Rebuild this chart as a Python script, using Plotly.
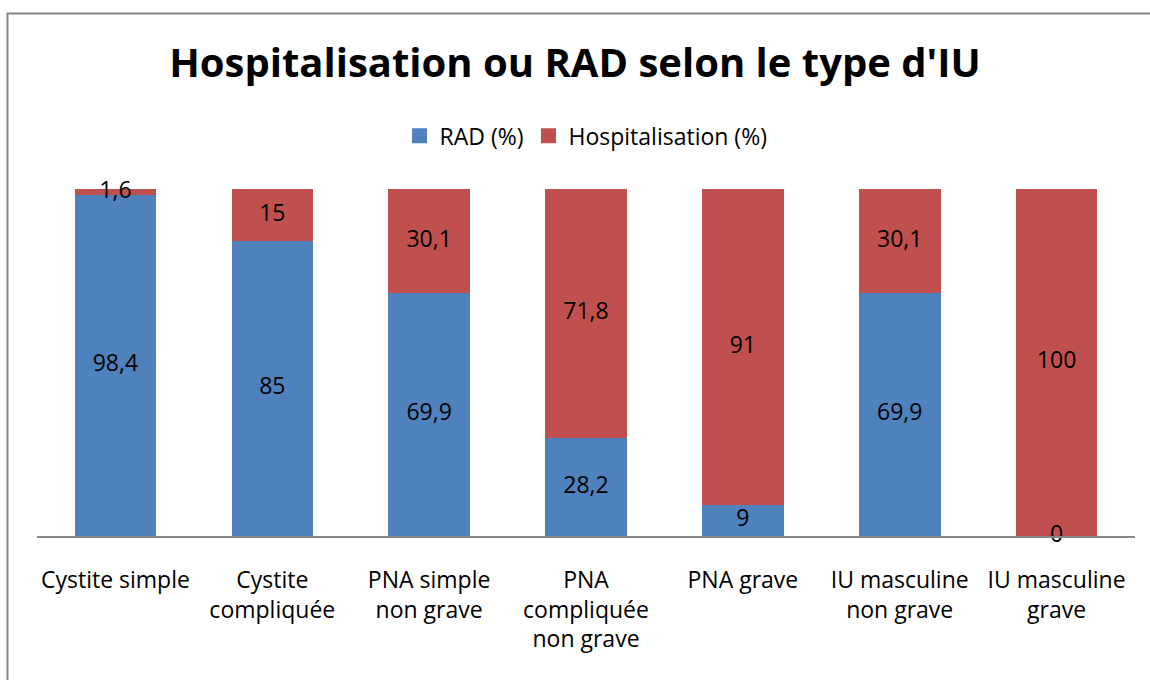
import plotly.graph_objects as go

categories = ["Cystite simple", "Cystite<br>compliquée", "PNA simple<br>non grave",
              "PNA<br>compliquée<br>non grave", "PNA grave",
              "IU masculine<br>non grave", "IU masculine<br>grave"]
rad = [98.4, 85, 69.9, 28.2, 9, 69.9, 0]
hosp = [1.6, 15, 30.1, 71.8, 91, 30.1, 100]
rad_labels = ["98,4", "85", "69,9", "28,2", "9", "69,9", "0"]
hosp_labels = ["1,6", "15", "30,1", "71,8", "91", "30,1", "100"]

font_name = "Open Sans"
blue, red = "#4F81BD", "#C0504D"

fig = go.Figure()
fig.add_trace(go.Bar(x=categories, y=rad, name="RAD (%)", marker_color=blue,
                     marker_line_width=0, width=0.52, hoverinfo="skip", showlegend=False))
fig.add_trace(go.Bar(x=categories, y=hosp, name="Hospitalisation (%)", marker_color=red,
                     marker_line_width=0, width=0.52, hoverinfo="skip", showlegend=False))

# legend entries with bigger square markers
for name, col in [("RAD (%)", blue), ("Hospitalisation (%)", red)]:
    fig.add_trace(go.Scatter(x=[None], y=[None], mode="markers", name=name,
                             marker=dict(symbol="square", size=15, color=col)))

# value labels centred in each segment (also for tiny / empty segments)
fig.add_trace(go.Scatter(
    x=categories + categories,
    y=[r / 2 for r in rad] + [r + h / 2 for r, h in zip(rad, hosp)],
    text=rad_labels + hosp_labels,
    mode="text", textposition="middle center",
    textfont=dict(size=23, color="black", family=font_name),
    showlegend=False, hoverinfo="skip", cliponaxis=False,
))

# outer chart border (only left and top edges are inside the picture)
fig.add_shape(type="path", xref="paper", yref="paper",
              path="M %f %f L %f %f L %f %f" % (
                  (7.5 - 37) / 1098, (536 - 720) / 347,
                  (7.5 - 37) / 1098, (536 - 13.5) / 347,
                  (1160 - 37) / 1098, (536 - 13.5) / 347),
              line=dict(color="#868686", width=2), layer="below")

fig.update_layout(
    barmode="stack",
    width=1150, height=680,
    margin=dict(l=37, r=15, t=189, b=144),
    paper_bgcolor="white", plot_bgcolor="white",
    font=dict(family=font_name, size=23, color="black"),
    title=dict(text="<b>Hospitalisation ou RAD selon le type d'IU</b>",
               x=0.5, xanchor="center", y=0.908, yanchor="middle",
               font=dict(size=40, family=font_name, color="black")),
    legend=dict(orientation="h", x=0.5, xanchor="center", y=1.153, yanchor="middle",
                font=dict(size=23, family=font_name), itemwidth=30,
                traceorder="normal"),
    bargap=0.48,
    xaxis=dict(showline=True, linecolor="#868686", linewidth=2, ticks="",
               tickfont=dict(size=23), ticklabelstandoff=22, fixedrange=True),
    yaxis=dict(range=[0, 100], visible=False, fixedrange=True),
    showlegend=True,
)

fig.write_html("out.html", config={"displayModeBar": False},
               post_script="document.body.style.margin='0';")
